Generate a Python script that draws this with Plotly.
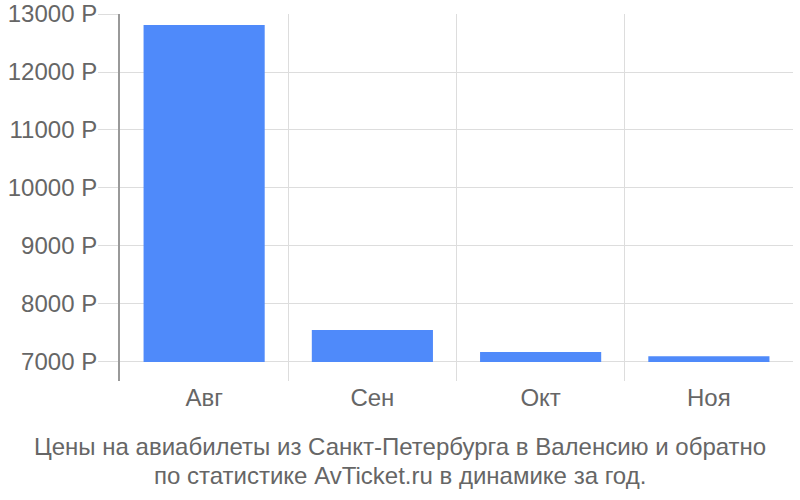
import plotly.graph_objects as go

months = ["Авг", "Сен", "Окт", "Ноя"]
prices = [12810, 7550, 7170, 7100]
base_price = 7000
ytick_vals = [7000, 8000, 9000, 10000, 11000, 12000, 13000]
ytick_text = [f"{v} Р" for v in ytick_vals]
title_lines = ["Цены на авиабилеты из Санкт-Петербурга в Валенсию и обратно",
               "по статистике AvTicket.ru в динамике за год."]

W, H = 800, 500
L, T, R, B = 120, 14, 7, 119
plot_h = H - T - B

fig = go.Figure()
fig.add_trace(go.Bar(
    x=months,
    y=[p - base_price for p in prices],
    base=base_price,
    width=0.72,
    marker=dict(color="#4f8afa", line=dict(width=0)),
    hoverinfo="skip",
))

font = "Liberation Sans, Arial, sans-serif"
text_color = "#666666"
annotations = []
for i, line in enumerate(title_lines):
    y_px = 446 + 29 * i  # center of line in pixels
    annotations.append(dict(
        text=line,
        xref="paper", yref="paper",
        x=(400 - L) / (W - L - R),
        y=-(y_px - (T + plot_h)) / plot_h,
        xanchor="center", yanchor="middle", showarrow=False,
        font=dict(family=font, size=24, color=text_color),
    ))

fig.update_layout(
    width=W, height=H,
    margin=dict(l=L, r=R, t=T, b=B),
    paper_bgcolor="white", plot_bgcolor="white",
    showlegend=False,
    font=dict(family=font, size=24, color=text_color),
    xaxis=dict(
        type="category",
        tickson="boundaries",
        automargin=False,
        showgrid=True, gridcolor="#dddddd", gridwidth=1,
        ticks="", showline=False, zeroline=False,
        tickfont=dict(size=24, color=text_color),
        range=[-0.5, 3.5],
    ),
    yaxis=dict(
        range=[6672, 13000],
        automargin=False,
        tickvals=ytick_vals, ticktext=ytick_text,
        showgrid=True, gridcolor="#dddddd", gridwidth=1,
        ticks="outside", ticklen=20, tickcolor="#dddddd", tickwidth=1,
        ticklabelstandoff=-4,
        showline=True, linecolor="#999999", linewidth=2,
        zeroline=False,
        tickfont=dict(size=24, color=text_color),
    ),
    annotations=annotations,
)

fig.write_html(
    "out.html",
    config={"displayModeBar": False},
    post_script="document.body.style.margin='0';",
)
